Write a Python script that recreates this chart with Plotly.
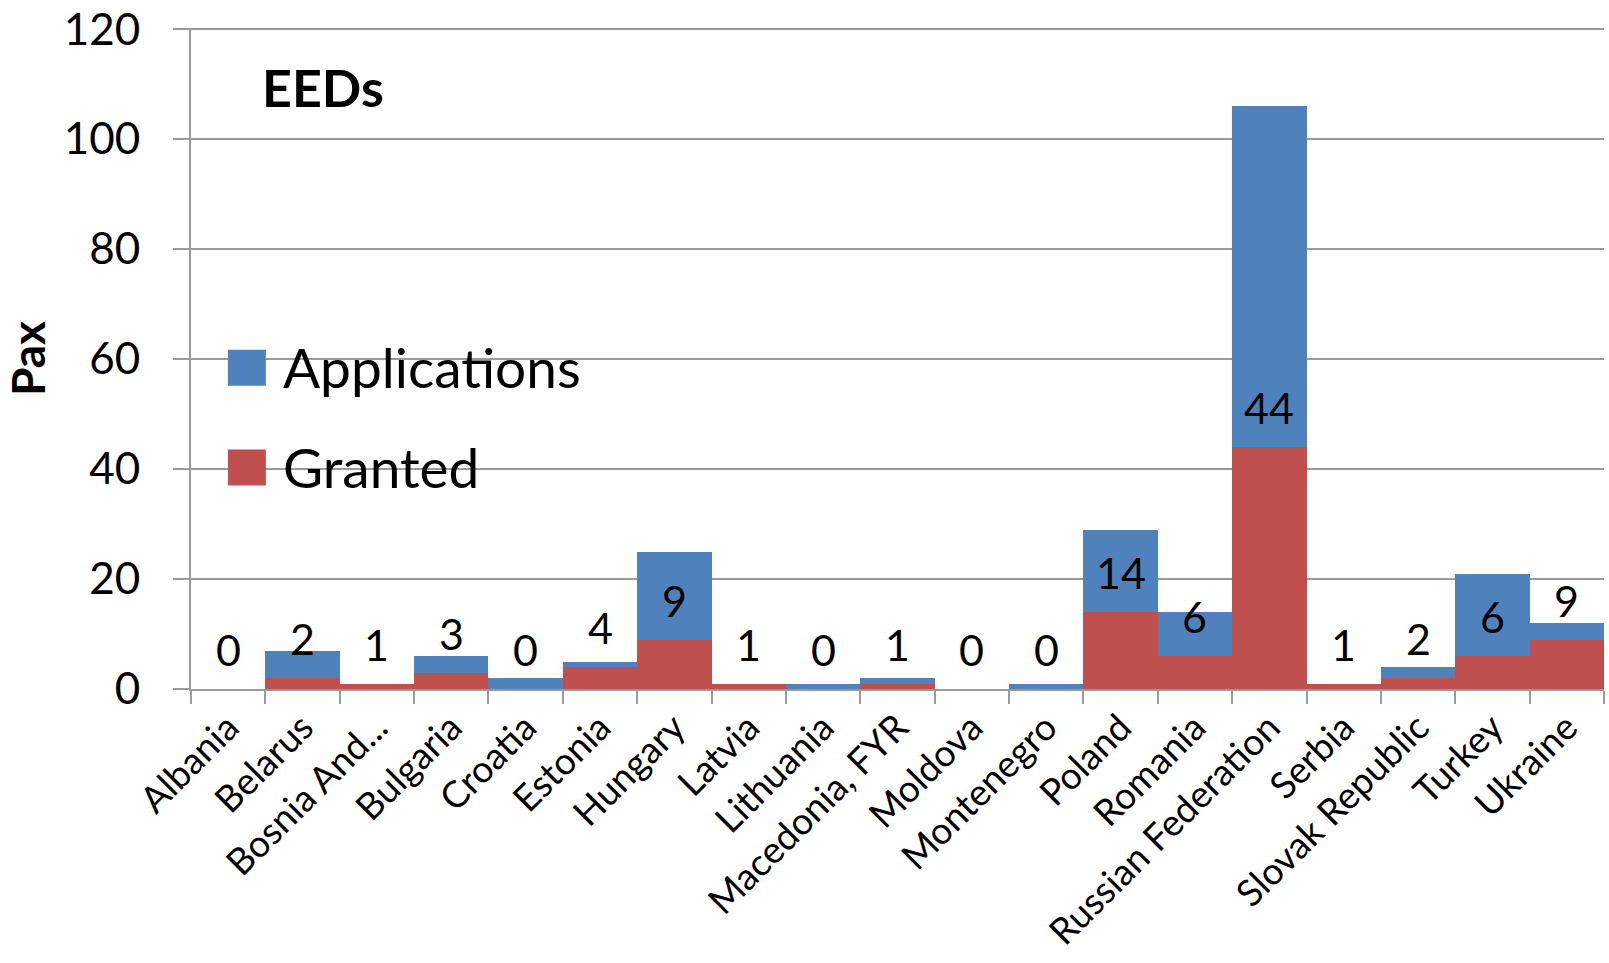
import plotly.graph_objects as go

categories = ["Albania", "Belarus", "Bosnia And...", "Bulgaria", "Croatia", "Estonia",
              "Hungary", "Latvia", "Lithuania", "Macedonia, FYR", "Moldova", "Montenegro",
              "Poland", "Romania", "Russian Federation", "Serbia", "Slovak Republic",
              "Turkey", "Ukraine"]
applications = [0, 7, 1, 6, 2, 5, 25, 1, 1, 2, 0, 1, 29, 14, 106, 1, 4, 21, 12]
granted = [0, 2, 1, 3, 0, 4, 9, 1, 0, 1, 0, 0, 14, 6, 44, 1, 2, 6, 9]
y_ticks = [0, 20, 40, 60, 80, 100, 120]

BLUE = "#4F81BD"
RED = "#C0504D"
FONT = "Lato, 'Open Sans', sans-serif"
GRID = "#9a9a9a"

fig = go.Figure()
fig.add_trace(go.Bar(x=categories, y=applications, name="Applications",
                     marker=dict(color=BLUE, line=dict(width=0)), showlegend=False))
fig.add_trace(go.Bar(x=categories, y=granted, name="Granted",
                     marker=dict(color=RED, line=dict(width=0)), showlegend=False))

annotations = []
for c, g in zip(categories, granted):
    annotations.append(dict(x=c, y=g, xref="x", yref="y", text=str(g), showarrow=False,
                            yanchor="bottom", yshift=12,
                            font=dict(family=FONT, size=43, color="black")))

# title inside plot
annotations.append(dict(x=0.049, y=0.911, xref="paper", yref="paper", text="<b>EEDs</b>",
                        showarrow=False, xanchor="left", yanchor="middle",
                        font=dict(family=FONT, size=52, color="black")))
# manual legend
legend_items = [("Applications", BLUE, 0.4588, 0.5132, 0.4868),
                ("Granted", RED, 0.3079, 0.3624, 0.336)]
shapes = []
for name, col, y0, y1, ty in legend_items:
    shapes.append(dict(type="rect", xref="paper", yref="paper", x0=0.0261, x1=0.053,
                       y0=y0, y1=y1, fillcolor=col, line=dict(width=0)))
    annotations.append(dict(x=0.0639, y=ty, xref="paper", yref="paper", text=name,
                            showarrow=False, xanchor="left", yanchor="middle",
                            font=dict(family=FONT, size=55, color="black")))

fig.update_layout(
    width=1609, height=963,
    margin=dict(l=191, r=5, t=28, b=274),
    paper_bgcolor="white", plot_bgcolor="white",
    barmode="overlay", bargap=0,
    showlegend=False,
    annotations=annotations, shapes=shapes,
    font=dict(family=FONT, color="black"),
    xaxis=dict(type="category", tickangle=-45, tickson="boundaries", ticks="outside",
               ticklen=13, tickcolor=GRID, tickwidth=2, showline=True, linecolor=GRID,
               linewidth=2, showgrid=False, automargin=False,
               tickfont=dict(family=FONT, size=37, color="black")),
    yaxis=dict(range=[0, 120.2], tickvals=y_ticks, ticks="outside", ticklen=16,
               tickcolor=GRID, tickwidth=2, showline=True, linecolor=GRID, linewidth=2,
               showgrid=True, gridcolor=GRID, gridwidth=2, zeroline=False,
               automargin=False, ticklabelstandoff=24,
               tickfont=dict(family=FONT, size=44, color="black"),
               title=dict(text="<b>Pax</b>", font=dict(family=FONT, size=46, color="black"),
                          standoff=14)),
)

fig.write_html("out.html", config={"displayModeBar": False},
               post_script="document.body.style.margin='0';document.body.style.overflow='hidden';")
